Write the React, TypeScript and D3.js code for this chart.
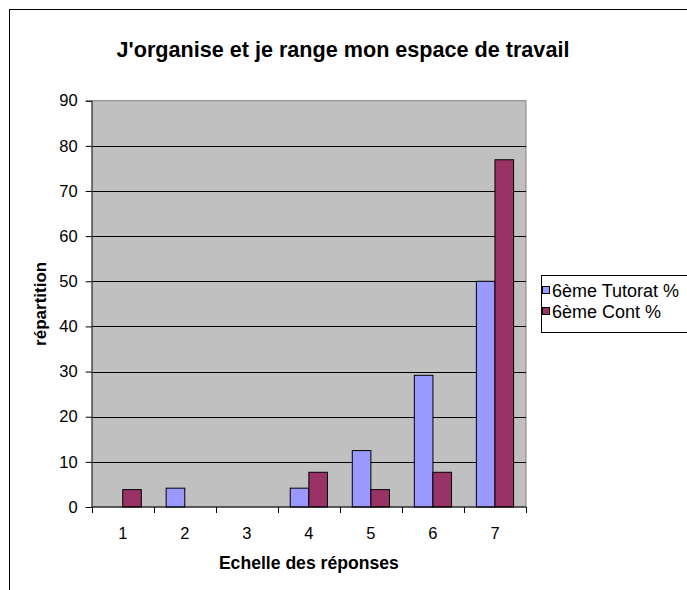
import React, { useEffect, useRef } from 'react';
import * as d3 from 'd3';

const categories = ['1', '2', '3', '4', '5', '6', '7'];
const tutorat = [0, 4.17, 0, 4.17, 12.5, 29.17, 50];
const cont = [3.85, 0, 0, 7.69, 3.85, 7.69, 76.92];
const seriesNames = ['6ème Tutorat %', '6ème Cont %'];
const seriesColors = ['#9999FF', '#993366'];
const yTicks = [0, 10, 20, 30, 40, 50, 60, 70, 80, 90];

const W = 687;
const H = 590;
const margin = { top: 100.7, right: 161, bottom: 83, left: 91.7 };

export default function App() {
  const ref = useRef<SVGSVGElement>(null);

  useEffect(() => {
    const svg = d3.select(ref.current);
    svg.selectAll('*').remove();

    const font = '"Liberation Sans", Arial, sans-serif';
    const x0 = margin.left;
    const x1 = W - margin.right;
    const y0 = H - margin.bottom;
    const y1 = margin.top;

    // chart frame
    svg.append('rect')
      .attr('x', 9.5).attr('y', 9.5)
      .attr('width', 720).attr('height', 620)
      .attr('fill', 'white').attr('stroke', 'black');

    const xScale = d3.scaleBand().domain(categories).range([x0, x1]);
    const yScale = d3.scaleLinear().domain([0, 90]).range([y0, y1]);

    // plot area
    svg.append('rect')
      .attr('x', x0).attr('y', y1)
      .attr('width', x1 - x0).attr('height', y0 - y1)
      .attr('fill', '#C0C0C0').attr('stroke', '#808080');

    // gridlines
    svg.append('g')
      .selectAll('line')
      .data(yTicks.slice(1, -1))
      .enter()
      .append('line')
      .attr('x1', x0).attr('x2', x1)
      .attr('y1', d => Math.round(yScale(d)) + 0.5)
      .attr('y2', d => Math.round(yScale(d)) + 0.5)
      .attr('stroke', 'black');

    // bars
    const bw = xScale.bandwidth() * 0.3;
    const data = [tutorat, cont];
    data.forEach((vals, si) => {
      svg.append('g')
        .selectAll('rect')
        .data(vals.map((v, i) => ({ v, c: categories[i] })).filter(d => d.v > 0))
        .enter()
        .append('rect')
        .attr('x', d => (xScale(d.c) as number) + xScale.bandwidth() / 2 - bw + si * bw)
        .attr('y', d => yScale(d.v))
        .attr('width', bw)
        .attr('height', d => y0 - yScale(d.v))
        .attr('fill', seriesColors[si])
        .attr('stroke', 'black');
    });

    // y axis
    const yAxis = svg.append('g')
      .attr('transform', `translate(${x0},0)`)
      .call(d3.axisLeft(yScale).tickValues(yTicks).tickSize(6).tickPadding(8));
    yAxis.select('.domain').attr('stroke', '#404040');
    yAxis.selectAll('text').attr('font-family', font).attr('font-size', 16.5).attr('fill', 'black');

    // x axis, ticks between categories
    const xAxis = svg.append('g')
      .attr('transform', `translate(0,${y0})`);
    xAxis.append('line')
      .attr('x1', x0).attr('x2', x1).attr('y1', 0).attr('y2', 0)
      .attr('stroke', 'black');
    xAxis.selectAll('line.tick')
      .data(d3.range(categories.length + 1))
      .enter()
      .append('line')
      .attr('class', 'tick')
      .attr('x1', i => Math.round(x0 + i * xScale.step()) + 0.5)
      .attr('x2', i => Math.round(x0 + i * xScale.step()) + 0.5)
      .attr('y1', 0).attr('y2', 6)
      .attr('stroke', 'black');
    xAxis.selectAll('text')
      .data(categories)
      .enter()
      .append('text')
      .attr('x', d => (xScale(d) as number) + xScale.bandwidth() / 2)
      .attr('y', 32)
      .attr('text-anchor', 'middle')
      .attr('font-family', font)
      .attr('font-size', 16.5)
      .text(d => d);

    // title
    svg.append('text')
      .attr('x', 343).attr('y', 56.5)
      .attr('text-anchor', 'middle')
      .attr('font-family', font)
      .attr('font-weight', 'bold')
      .attr('font-size', 21.6)
      .text("J'organise et je range mon espace de travail");

    // axis titles
    svg.append('text')
      .attr('x', (x0 + x1) / 2).attr('y', 569)
      .attr('text-anchor', 'middle')
      .attr('font-family', font)
      .attr('font-weight', 'bold')
      .attr('font-size', 17.6)
      .text('Echelle des réponses');

    svg.append('text')
      .attr('transform', `translate(46,${(y0 + y1) / 2}) rotate(-90)`)
      .attr('text-anchor', 'middle')
      .attr('font-family', font)
      .attr('font-weight', 'bold')
      .attr('font-size', 17)
      .text('répartition');

    // legend
    const lg = svg.append('g');
    lg.append('rect')
      .attr('x', 541.5).attr('y', 275.5)
      .attr('width', 160).attr('height', 57)
      .attr('fill', 'white').attr('stroke', 'black');
    seriesNames.forEach((name, i) => {
      lg.append('rect')
        .attr('x', 542.5).attr('y', 286.5 + i * 21)
        .attr('width', 7).attr('height', 7)
        .attr('fill', seriesColors[i]).attr('stroke', 'black');
      lg.append('text')
        .attr('x', 552).attr('y', 296.5 + i * 21)
        .attr('font-family', font)
        .attr('font-size', 18)
        .text(name);
    });
  }, []);

  return (
    <svg
      ref={ref}
      width={W}
      height={H}
      style={{ position: 'absolute', left: 0, top: 0, background: 'white' }}
    />
  );
}
